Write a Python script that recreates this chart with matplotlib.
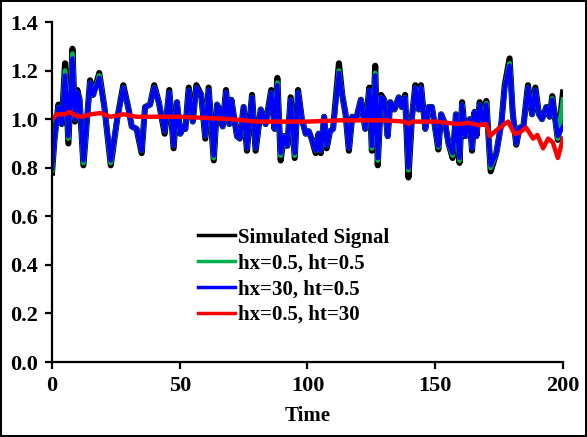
import matplotlib
matplotlib.use("Agg")
import matplotlib.pyplot as plt

plt.rcParams['font.family'] = ['Liberation Serif', 'DejaVu Serif']
plt.rcParams['font.weight'] = 'bold'

# time points of the signal
t_sig = [0, 1, 2.5, 3.8, 5.1, 6.4, 8.0, 9.0, 9.9, 10.8, 12.3, 14.9, 16.1, 18.5, 20.5,
         23.0, 25.5, 27.9, 30, 31.2, 33.1, 35.1, 36.4, 38.4, 40.0, 41.8, 44.1, 45.9,
         47.6, 48.9, 50.2, 51.5, 52.2, 53.5, 55.1, 56.5, 58.4, 60.0, 61.3, 63.3, 64.6,
         65.9, 66.8, 68.1, 69.4, 70.2, 72.4, 73.5, 75.0, 76.3, 78.3, 79.7, 81.7, 83.6,
         85.8, 87.1, 88.2, 89.5, 90.8, 92.1, 93.4, 95.0, 96.3, 97.8, 99.3, 100.5, 101.6,
         103.2, 104.3, 105.2, 106.5, 107.5, 108.8, 110, 112.3, 113.6, 114.9, 116.2, 117.5,
         119.0, 120.9, 122.6, 124.2, 125.2, 126.5, 127.5, 128.8, 130.0, 131.4, 132.4,
         134.0, 135.7, 136.9, 138.2, 139.5, 140.9, 142.2, 143.5, 144.4, 146.1, 147.4,
         148.7, 150.3, 151.2, 152.3, 153.9, 155.2, 156.8, 158.1, 159.5, 160.5, 161.8,
         163.5, 164.4, 165.4, 166.1, 167.4, 168.8, 170.0, 171.7, 173.9, 175.9, 177.2,
         179.1, 180.3, 181.7, 183.0, 184.5, 186.3, 187.9, 189.2, 190.6, 191.8, 193.5,
         194.8, 195.8, 198.0, 200.0]

simulated = [0.78, 0.92, 1.06, 0.98, 1.23, 0.90, 1.29, 0.99, 1.12, 1.08, 0.81, 1.16, 1.10, 1.19, 1.05,
             0.81, 1.00, 1.14, 1.04, 0.97, 0.96, 0.86, 1.05, 1.06, 1.14, 1.07, 0.94, 1.12,
             0.88, 1.07, 0.94, 0.97, 0.96, 1.13, 0.99, 1.14, 1.10, 0.92, 1.13, 0.83, 1.06,
             1.03, 0.97, 1.12, 0.98, 1.08, 0.93, 0.92, 1.05, 0.87, 1.10, 0.87, 1.04, 0.98,
             1.12, 0.96, 1.17, 0.83, 0.93, 0.89, 1.09, 0.84, 1.12, 1.00, 0.94, 0.95, 0.92,
             0.86, 0.94, 0.86, 1.01, 0.88, 0.95, 0.96, 1.23, 1.10, 1.02, 0.87, 1.01,
             1.00, 1.08, 0.96, 1.13, 0.87, 1.22, 0.81, 1.10, 1.08, 0.93, 1.07,
             1.04, 1.09, 1.05, 1.10, 0.76, 1.01, 1.14, 1.04, 1.14, 0.96, 1.05,
             1.05, 0.94, 0.875, 1.02, 0.98, 0.90, 0.84, 1.02, 0.82, 1.07, 0.93,
             1.00, 0.87, 1.03, 0.93, 1.07, 0.98, 1.075, 0.785, 0.86, 0.985, 1.14,
             1.25, 1.03, 0.895, 0.965, 0.97, 1.14, 1.02, 1.13, 1.02, 1.00, 1.05,
             1.01, 1.095, 0.915, 1.11]

hx05_ht05 = [0.79, 0.92, 1.05, 0.98, 1.20, 0.92, 1.27, 1.00, 1.11, 1.08, 0.82, 1.15, 1.10, 1.18, 1.05,
             0.82, 1.00, 1.13, 1.04, 0.97, 0.96, 0.87, 1.05, 1.06, 1.13, 1.07, 0.95, 1.11,
             0.89, 1.07, 0.94, 0.97, 0.96, 1.12, 0.99, 1.13, 1.10, 0.93, 1.12, 0.84, 1.06,
             1.03, 0.97, 1.11, 0.98, 1.08, 0.93, 0.92, 1.05, 0.88, 1.09, 0.88, 1.04, 0.98,
             1.11, 0.96, 1.15, 0.85, 0.93, 0.89, 1.08, 0.85, 1.11, 1.00, 0.94, 0.95, 0.92,
             0.87, 0.94, 0.87, 1.01, 0.89, 0.95, 0.96, 1.20, 1.10, 1.02, 0.88, 1.01,
             1.00, 1.08, 0.96, 1.12, 0.88, 1.19, 0.83, 1.09, 1.08, 0.93, 1.07,
             1.04, 1.09, 1.05, 1.09, 0.79, 1.01, 1.13, 1.04, 1.13, 0.96, 1.05,
             1.05, 0.94, 0.885, 1.02, 0.98, 0.90, 0.85, 1.02, 0.83, 1.06, 0.93,
             1.00, 0.88, 1.03, 0.93, 1.06, 0.98, 1.065, 0.80, 0.86, 0.985, 1.13,
             1.23, 1.03, 0.90, 0.965, 0.97, 1.13, 1.02, 1.12, 1.02, 1.00, 1.05,
             1.01, 1.085, 0.92, 1.08]

hx30_ht05 = [0.80, 0.92, 1.05, 0.98, 1.18, 0.93, 1.25, 1.00, 1.11, 1.08, 0.83, 1.15, 1.10, 1.17, 1.05,
             0.83, 1.00, 1.13, 1.04, 0.97, 0.96, 0.87, 1.05, 1.06, 1.13, 1.07, 0.95, 1.11,
             0.89, 1.07, 0.94, 0.97, 0.96, 1.12, 0.99, 1.13, 1.10, 0.93, 1.12, 0.85, 1.06,
             1.03, 0.97, 1.11, 0.98, 1.08, 0.93, 0.92, 1.05, 0.88, 1.09, 0.88, 1.04, 0.98,
             1.11, 0.96, 1.14, 0.86, 0.93, 0.89, 1.08, 0.86, 1.11, 1.00, 0.94, 0.95, 0.92,
             0.87, 0.94, 0.87, 1.01, 0.89, 0.95, 0.96, 1.19, 1.10, 1.02, 0.88, 1.01,
             1.00, 1.08, 0.96, 1.12, 0.89, 1.18, 0.84, 1.09, 1.08, 0.93, 1.07,
             1.04, 1.09, 1.05, 1.09, 0.80, 1.01, 1.13, 1.04, 1.13, 0.96, 1.05,
             1.05, 0.94, 0.89, 1.02, 0.98, 0.90, 0.86, 1.02, 0.84, 1.06, 0.93,
             1.00, 0.88, 1.03, 0.93, 1.06, 0.98, 1.06, 0.81, 0.86, 0.985, 1.13,
             1.22, 1.03, 0.90, 0.965, 0.97, 1.13, 1.02, 1.12, 1.02, 1.00, 1.05,
             1.01, 1.08, 0.93, 0.97]

t_red = [0, 2, 5, 7, 9, 12, 15, 19, 23, 28, 33, 40, 50, 60, 70, 80, 90, 100, 112, 120,
         130, 138, 139.6, 141, 150, 159, 163, 167, 170, 171.3, 174.6, 178.5, 181, 183,
         185.6, 188.3, 190, 192.2, 194.2, 196, 198, 200]
hx05_ht30 = [1.00, 1.02, 1.02, 1.03, 1.015, 1.01, 1.02, 1.025, 1.01, 1.02, 1.01, 1.01,
             1.01, 1.005, 1.00, 0.99, 0.99, 0.99, 0.995, 0.995, 0.995, 0.99, 0.98, 0.99,
             0.99, 0.98, 0.985, 0.975, 0.98, 0.93, 0.96, 0.99, 0.94, 0.945, 0.965, 0.92,
             0.935, 0.88, 0.92, 0.905, 0.84, 0.92]

fig = plt.figure(figsize=(5.87, 4.37), dpi=100)
fig.patch.set_edgecolor('black')
fig.patch.set_linewidth(1.5)
ax = fig.add_axes([0.0886, 0.1716, 0.8705, 0.778])

ax.plot(t_sig, simulated, color='black', lw=4.4, label='Simulated Signal', solid_joinstyle='round')
ax.plot(t_sig, hx05_ht05, color='#00b050', lw=3.5, label='hx=0.5, ht=0.5', solid_joinstyle='round')
ax.plot(t_sig, hx30_ht05, color='#0000ff', lw=3.2, label='hx=30, ht=0.5', solid_joinstyle='round')
ax.plot(t_red, hx05_ht30, color='#ff0000', lw=3.2, label='hx=0.5, ht=30', solid_joinstyle='round')

ax.set_xlim(0, 200)
ax.set_ylim(0, 1.4)
ax.set_xticks([0, 50, 100, 150, 200])
ax.set_yticks([0.0, 0.2, 0.4, 0.6, 0.8, 1.0, 1.2, 1.4])
ax.set_yticklabels(['0.0', '0.2', '0.4', '0.6', '0.8', '1.0', '1.2', '1.4'])
ax.spines['top'].set_visible(False)
ax.spines['right'].set_visible(False)
for s in ['left', 'bottom']:
    ax.spines[s].set_linewidth(1.6)
ax.tick_params(direction='out', length=5, width=1.6, labelsize=16, pad=5)
for lab in ax.get_xticklabels() + ax.get_yticklabels():
    lab.set_fontweight('bold')
ax.set_xlabel('Time', fontsize=15, fontweight='bold', labelpad=7)

leg = ax.legend(loc='upper left', bbox_to_anchor=(0.27, 0.42), frameon=False,
                prop={'size': 15, 'weight': 'bold'}, handlelength=1.75,
                handletextpad=0.15, labelspacing=0.28, borderaxespad=0)
for h in leg.get_lines():
    h.set_linewidth(2.5)

fig.savefig('out.png', dpi=100)
